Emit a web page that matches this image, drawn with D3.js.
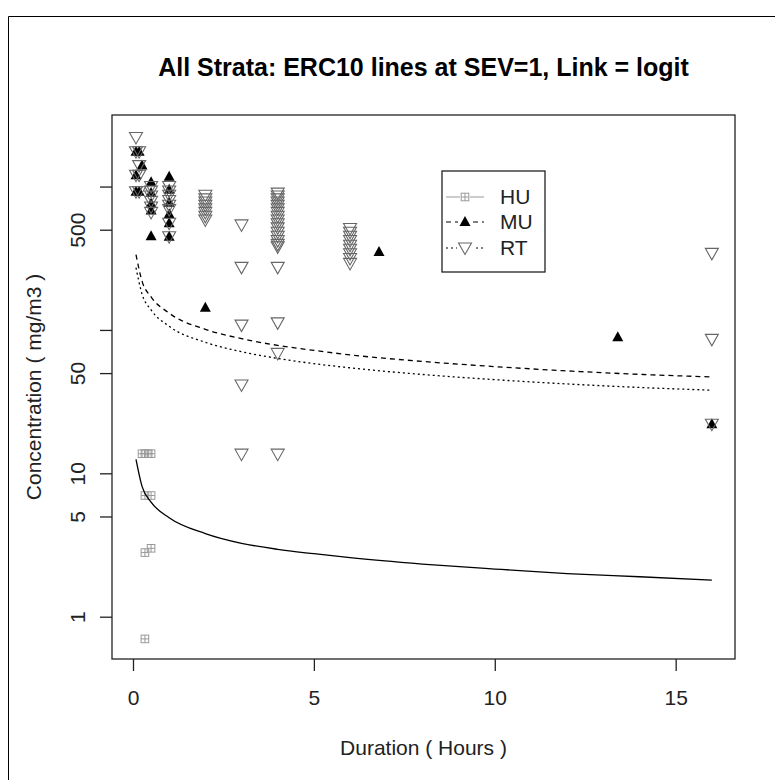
<!DOCTYPE html>
<html>
<head>
<meta charset="utf-8">
<script src="https://cdn.jsdelivr.net/npm/d3@7"></script>
<style>
  body { margin: 0; background: #fff; }
  text { font-family: "Liberation Sans", Arial, sans-serif; }
</style>
</head>
<body>
<div id="chart"></div>
<script>
// ERC10 curves (hours -> mg/m3)
var curveHours = [0.083, 0.25, 0.5, 1, 2, 3, 4, 5, 6, 8, 10, 12, 14, 16];
var huCurve = [12.5, 8.1, 6.3, 4.9, 3.8, 3.25, 2.95, 2.75, 2.58, 2.33, 2.15, 2.0, 1.9, 1.8];
var muCurve = [335, 219, 170, 131, 101, 87, 78, 72, 67, 60.3, 55.5, 51.8, 49, 47];
var rtCurve = [272, 178, 138, 106, 82, 70.5, 63.3, 58.2, 54.4, 48.9, 45, 42, 39.7, 38];

// observations
var huHours = [0.25, 0.33, 0.42, 0.5, 0.33, 0.5, 0.33, 0.5, 0.33];
var huConc  = [13.7, 13.7, 13.7, 13.7, 7, 7, 2.8, 3.0, 0.7];

var muHours = [0.083, 0.083, 0.083, 0.17, 0.25, 0.17, 0.5, 0.5, 0.5, 0.5, 0.5, 1, 1, 1, 1, 1, 1, 2, 6.8, 13.4, 16];
var muConc  = [1750, 1200, 920, 1750, 1400, 920, 1070, 900, 760, 680, 450, 1170, 950, 770, 640, 555, 447, 143, 350, 89, 22];

var rtHours = [0.083, 0.083, 0.083, 0.083, 0.17, 0.17, 0.17, 0.17,
  0.5, 0.5, 0.5, 0.5, 0.5, 0.5,
  1, 1, 1, 1, 1, 1, 1, 1,
  2, 2, 2, 2, 2, 2, 2, 2,
  3, 3, 3, 3, 3,
  4, 4, 4, 4, 4, 4, 4, 4, 4, 4, 4, 4, 4, 4, 4, 4, 4, 4, 4, 4,
  6, 6, 6, 6, 6, 6, 6, 6, 6,
  16, 16, 16];
var rtConc = [2200, 1750, 1200, 920, 1750, 1400, 1200, 920,
  1000, 930, 860, 790, 720, 660,
  1000, 930, 870, 800, 740, 690, 555, 447,
  870, 820, 780, 740, 700, 660, 620, 585,
  540, 273, 108, 41.3, 13.6,
  900, 860, 820, 780, 740, 700, 660, 620, 585, 550, 515, 480, 450, 420, 395, 380, 273, 112, 68.6, 13.6,
  510, 480, 450, 420, 390, 365, 340, 315, 291,
  342, 86, 22];

var xTicks = [0, 5, 10, 15];
var yTicks = [1, 5, 10, 50, 100, 500, 1000];
var yTickLabels = ["1", "5", "10", "50", "", "500", ""];

var legendNames = ["HU", "MU", "RT"];

var width = 775, height = 780;
var box = {left: 112, top: 115, right: 735, bottom: 659};

var svg = d3.select("#chart").append("svg")
    .attr("width", width).attr("height", height);

svg.append("rect").attr("width", width).attr("height", height).attr("fill", "#fff");
// figure frame (only top/left edges fall inside the picture)
svg.append("path").attr("d", "M8.5,780V16.5H775")
    .attr("fill", "none").attr("stroke", "#000").attr("stroke-width", 1);

var x = d3.scaleLinear().domain([-0.58, 16.64]).range([box.left, box.right]);
var y = d3.scaleLog().domain([0.507, 3155]).range([box.bottom, box.top]);

// title
svg.append("text")
    .attr("x", (box.left + box.right) / 2).attr("y", 76)
    .attr("text-anchor", "middle")
    .attr("font-size", 25).attr("font-weight", "bold")
    .text("All Strata: ERC10 lines at SEV=1, Link = logit");

// axes
var xAxis = svg.append("g")
    .attr("transform", "translate(0," + box.bottom + ")")
    .call(d3.axisBottom(x).tickValues(xTicks).tickSize(12).tickPadding(19).tickFormat(d3.format("d")));
var yAxis = svg.append("g")
    .attr("transform", "translate(" + box.left + ",0)")
    .call(d3.axisLeft(y).tickValues(yTicks).tickSize(12).tickFormat(function(d, i){ return yTickLabels[i]; }));

[xAxis, yAxis].forEach(function(a){
    a.select(".domain").remove();
    a.selectAll("line").attr("stroke", "#222").attr("stroke-width", 1.3);
    a.selectAll("text").attr("font-size", 21).attr("fill", "#222").attr("font-family", "Liberation Sans, Arial, sans-serif");
});
yAxis.selectAll(".tick text")
    .attr("x", null).attr("dy", null)
    .attr("text-anchor", "middle")
    .attr("transform", "translate(-27,0) rotate(-90)");

svg.append("rect")
    .attr("x", box.left).attr("y", box.top)
    .attr("width", box.right - box.left).attr("height", box.bottom - box.top)
    .attr("fill", "none").attr("stroke", "#222").attr("stroke-width", 1.3);

svg.append("text")
    .attr("x", (box.left + box.right) / 2).attr("y", 755)
    .attr("text-anchor", "middle").attr("font-size", 21).attr("fill", "#222")
    .text("Duration ( Hours )");
svg.append("text")
    .attr("transform", "translate(41," + ((box.top + box.bottom) / 2) + ") rotate(-90)")
    .attr("text-anchor", "middle").attr("font-size", 21).attr("fill", "#222")
    .text("Concentration ( mg/m3 )");

// symbols
function huSym(g, cx, cy, s){
    g.append("rect").attr("x", cx - s).attr("y", cy - s).attr("width", 2 * s).attr("height", 2 * s)
        .attr("fill", "none").attr("stroke", "#999").attr("stroke-width", 1);
    g.append("path").attr("d", "M" + (cx - s) + "," + cy + "H" + (cx + s) + "M" + cx + "," + (cy - s) + "V" + (cy + s))
        .attr("stroke", "#999").attr("stroke-width", 1);
}
function muSym(g, cx, cy){
    g.append("path").attr("d", "M" + cx + "," + (cy - 6) + "L" + (cx + 5.5) + "," + (cy + 4) + "L" + (cx - 5.5) + "," + (cy + 4) + "Z")
        .attr("fill", "#000");
}
function rtSym(g, cx, cy){
    g.append("path").attr("d", "M" + (cx - 6.5) + "," + (cy - 5) + "L" + (cx + 6.5) + "," + (cy - 5) + "L" + cx + "," + (cy + 6.5) + "Z")
        .attr("fill", "none").attr("stroke", "#666").attr("stroke-width", 1.1);
}

var pts = svg.append("g");
huHours.forEach(function(h, i){ huSym(pts, x(h), y(huConc[i]), 3.8); });
muHours.forEach(function(h, i){ muSym(pts, x(h), y(muConc[i])); });
rtHours.forEach(function(h, i){ rtSym(pts, x(h), y(rtConc[i])); });

// fitted curves
var line = d3.line().curve(d3.curveMonotoneX)
    .x(function(d){ return x(d[0]); }).y(function(d){ return y(d[1]); });
var curves = [
    {vals: huCurve, dash: null},
    {vals: muCurve, dash: "5,4"},
    {vals: rtCurve, dash: "2,3"}
];
curves.forEach(function(c){
    svg.append("path")
        .datum(curveHours.map(function(h, i){ return [h, c.vals[i]]; }))
        .attr("d", line).attr("fill", "none")
        .attr("stroke", "#000").attr("stroke-width", 1.3)
        .attr("stroke-dasharray", c.dash);
});

// legend
var lg = svg.append("g");
lg.append("rect").attr("x", 442).attr("y", 171).attr("width", 103).attr("height", 101)
    .attr("fill", "#fff").attr("stroke", "#222").attr("stroke-width", 1.3);
var rowY = [197, 222, 248];
legendNames.forEach(function(name, i){
    var ly = rowY[i];
    lg.append("line").attr("x1", 446).attr("x2", 484).attr("y1", ly).attr("y2", ly)
        .attr("stroke", i === 0 ? "#999" : "#000").attr("stroke-width", 1.2)
        .attr("stroke-dasharray", [null, "5,4", "2,3"][i]);
    if (i === 0) { lg.append("rect").attr("x", 460).attr("y", ly - 5).attr("width", 10).attr("height", 10).attr("fill", "#fff"); huSym(lg, 465, ly, 3.8); }
    if (i === 1) { lg.append("rect").attr("x", 458).attr("y", ly - 7).attr("width", 14).attr("height", 12).attr("fill", "#fff"); muSym(lg, 465, ly); }
    if (i === 2) { lg.append("rect").attr("x", 457).attr("y", ly - 6).attr("width", 16).attr("height", 13).attr("fill", "#fff"); rtSym(lg, 465, ly); }
    lg.append("text").attr("x", 500).attr("y", ly + 7).attr("font-size", 21).attr("fill", "#222").text(name);
});
</script>
</body>
</html>
